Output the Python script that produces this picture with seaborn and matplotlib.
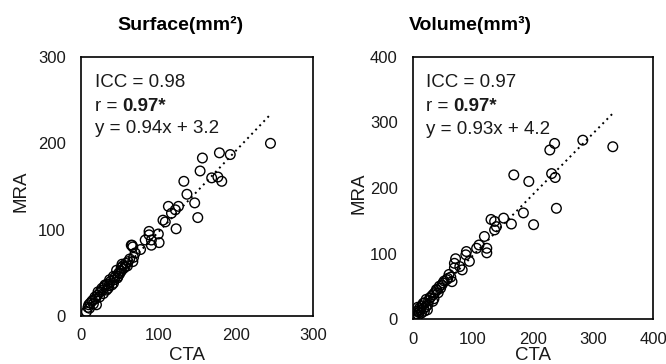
import numpy as np
import matplotlib
matplotlib.use("Agg")
import matplotlib.pyplot as plt
import seaborn as sns

# DATA
surf_cta = [245, 193, 179, 157, 154, 133, 169, 177, 182, 137, 147, 151, 113, 126, 122,
            117, 106, 109, 123, 88, 88, 100, 83, 91, 91, 101, 65, 67, 77, 70, 67, 61,
            53, 57, 46, 50, 42, 37, 31, 27, 35, 22, 18, 14, 10, 7, 20, 29, 42, 48, 55,
            12, 15, 16, 19, 21, 24, 25, 28, 30, 33, 34, 36, 38, 40, 43, 44, 47, 49, 52,
            54, 58, 60, 63, 68, 9, 11, 66, 52]
surf_mra = [200, 187, 189, 183, 168, 156, 160, 161, 156, 141, 131, 114, 127, 127, 123,
            119, 111, 109, 101, 98, 94, 95, 88, 88, 82, 85, 82, 80, 77, 73, 63, 63,
            60, 57, 53, 49, 46, 42, 36, 32, 32, 28, 22, 17, 13, 5, 13, 26, 38, 46, 55,
            15, 18, 14, 20, 24, 22, 28, 30, 34, 30, 37, 35, 40, 36, 42, 45, 44, 50, 52,
            58, 61, 58, 66, 68, 10, 9, 82, 56]

vol_cta = [333, 283, 236, 228, 231, 237, 239, 168, 193, 184, 201, 164, 151, 136, 130,
           139, 136, 119, 110, 106, 123, 123, 89, 88, 94, 82, 71, 69, 69, 78, 60, 56,
           50, 44, 39, 33, 28, 22, 17, 11, 7, 3, 42, 33, 22, 14,
           5, 9, 12, 15, 18, 20, 25, 26, 30, 35, 36, 40, 46, 48, 52, 58, 63, 65, 2, 10,
           8, 19, 24]
vol_mra = [263, 273, 268, 258, 222, 216, 169, 220, 210, 162, 144, 145, 154, 149, 152,
           141, 136, 126, 113, 108, 108, 101, 103, 98, 88, 75, 92, 85, 78, 80, 68, 60,
           55, 50, 45, 37, 32, 30, 24, 17, 12, 4, 40, 27, 19, 9,
           8, 6, 14, 20, 16, 25, 22, 28, 34, 31, 40, 44, 47, 52, 58, 62, 64, 57, 2, 10,
           18, 12, 14]

titles = ["Surface(mm²)", "Volume(mm³)"]
limits = [300, 400]
tick_steps = [100, 100]
icc = ["0.98", "0.97"]
r_vals = ["0.97*", "0.97*"]
slopes = [0.94, 0.93]
intercepts = [3.2, 4.2]

sns.set_style("white")
plt.rcParams["font.family"] = ["Liberation Sans", "DejaVu Sans"]

fig = plt.figure(figsize=(6.66, 3.64), dpi=100)
W, H = 666, 364
TXT = "#1a1a1a"

# axes boxes in pixels: left, top, right, bottom
boxes = [(81, 57, 313, 316), (413, 57, 653, 319)]
title_x = [180, 470]
xlabel_x = [0.457, 0.5]
ylabel_x = [-0.259, -0.225]
xlabel_ypix = 355

datasets = [(surf_cta, surf_mra), (vol_cta, vol_mra)]

for i, (xs, ys) in enumerate(datasets):
    l, t, r, b = boxes[i]
    ax = fig.add_axes([l / W, 1 - b / H, (r - l) / W, (b - t) / H])

    sns.scatterplot(x=xs, y=ys, ax=ax, marker="o", s=48,
                    facecolor="none", edgecolor="black", linewidth=1.0, zorder=3)

    # trend line from the stated fit
    xx = np.array([min(xs), max(xs)])
    ax.plot(xx, slopes[i] * xx + intercepts[i], color="black",
            linestyle=(0, (1, 2)), linewidth=1.4, zorder=2)

    lim = limits[i]
    ax.set_xlim(0, lim)
    ax.set_ylim(0, lim)
    ticks = np.arange(0, lim + 1, tick_steps[i])
    ax.set_xticks(ticks)
    ax.set_yticks(ticks)
    ax.tick_params(axis="both", length=0, labelsize=12, colors=TXT)
    ax.tick_params(axis="x", pad=9)
    ax.tick_params(axis="y", pad=11)

    for sp in ax.spines.values():
        sp.set_color("black")
        sp.set_linewidth(1.2)

    ax.set_xlabel("CTA", fontsize=13.5, color=TXT, va="center")
    ax.set_ylabel("MRA", fontsize=13.5, color=TXT, va="center")
    ax.xaxis.set_label_coords(xlabel_x[i], -(xlabel_ypix - b) / (b - t))
    ax.yaxis.set_label_coords(ylabel_x[i], 0.48)

    tx = 0.06 if i == 0 else 0.054
    ax.text(tx, 0.884, f"ICC = {icc[i]}", transform=ax.transAxes,
            fontsize=13.5, va="baseline", color=TXT)
    t1 = ax.text(tx, 0.792, "r = ", transform=ax.transAxes,
                 fontsize=13.5, va="baseline", color=TXT)
    ax.annotate(r_vals[i], xy=(1, 0), xycoords=t1, va="bottom", ha="left",
                fontsize=13.5, fontweight="bold", color=TXT)
    ax.text(tx, 0.705, f"y = {slopes[i]:.2f}x + {intercepts[i]}",
            transform=ax.transAxes, fontsize=13.5, va="baseline", color=TXT)

    fig.text(title_x[i] / W, 1 - 25 / H, titles[i], ha="center", va="center",
             fontsize=14, fontweight="bold", color="black")

fig.savefig("out.png", dpi=100)
